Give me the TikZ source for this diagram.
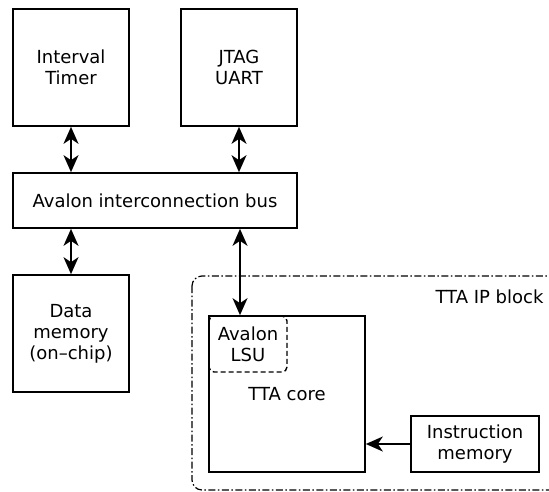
\documentclass[tikz,border=0pt]{standalone}
\usepackage{fontspec}
\setmainfont{DejaVu Sans}
\usetikzlibrary{arrows.meta}
\begin{document}
\begin{tikzpicture}[x=1pt,y=-1pt,
  every node/.style={font=\fontsize{18}{21}\selectfont},
  blk/.style={draw,line width=1.7pt,align=center,inner sep=0pt},
  bi/.style={line width=1.7pt,{Stealth[length=17pt,width=15pt,inset=5pt]}-{Stealth[length=17pt,width=15pt,inset=5pt]}},
  uni/.style={line width=1.7pt,-{Stealth[length=17pt,width=15pt,inset=5pt]}},
]
\useasboundingbox (0,0) rectangle (549,492);
\begin{scope}
\clip (0,0) rectangle (549,492);
\draw[line width=1.2pt,rounded corners=10pt,dash pattern=on 7pt off 2.5pt on 1.5pt off 2.5pt] (192,276) rectangle (570,490);
\end{scope}
\node[anchor=east] (iplabel) at (547,297) {TTA IP block};

\node[blk,minimum width=116pt,minimum height=117pt] (timer) at (71,67.5) {Interval\\Timer};
\node[blk,minimum width=116pt,minimum height=117pt] (jtag) at (239,67.5) {JTAG\\UART};
\node[blk,minimum width=284pt,minimum height=55pt] (bus) at (155,200.5) {Avalon interconnection bus};
\node[blk,minimum width=116pt,minimum height=117pt] (dmem) at (71,333.5) {Data\\memory\\(on–chip)};
\node[blk,minimum width=156pt,minimum height=156pt] (core) at (287,394) {TTA core};
\node[draw,line width=1.4pt,dash pattern=on 5pt off 3pt,rounded corners=5pt,align=center,inner sep=0pt,minimum width=78pt,minimum height=56pt] (lsu) at (248,344) {Avalon\\LSU};
\node[blk,minimum width=128pt,minimum height=56pt] (imem) at (475,444) {Instruction\\memory};

\draw[bi] (timer.south) -- (timer.south |- bus.north);
\draw[bi] (jtag.south) -- (jtag.south |- bus.north);
\draw[bi] (bus.south -| dmem.north) -- (dmem.north);
\draw[bi] (bus.south -| 240,0) -- (core.north -| 240,0);
\draw[uni] (imem.west) -- (imem.west -| core.east);
\end{tikzpicture}
\end{document}
